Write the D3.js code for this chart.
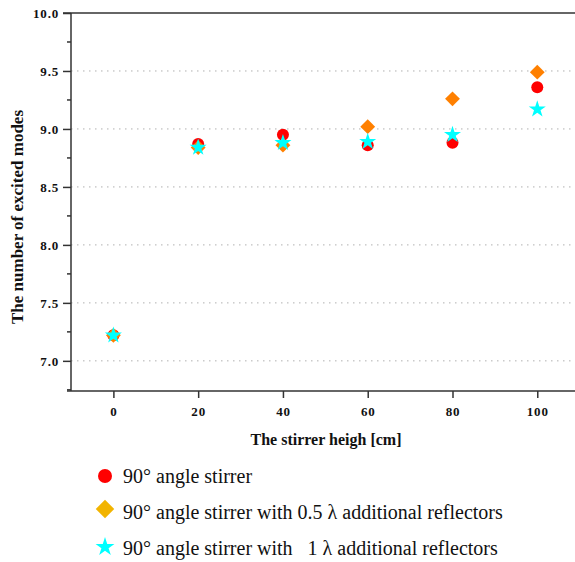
<!DOCTYPE html>
<html>
<head>
<meta charset="utf-8">
<script src="https://cdn.jsdelivr.net/npm/d3@7"></script>
<style>
  html, body { margin: 0; padding: 0; background: #fff; }
  svg { display: block; }
</style>
</head>
<body>
<svg id="chart" width="575" height="562"></svg>
<script>
// ---- data ----
const heights = [0, 20, 40, 60, 80, 100];
const seriesNames = [
  "90° angle stirrer",
  "90° angle stirrer with 0.5 λ additional reflectors",
  "90° angle stirrer with   1 λ additional reflectors"
];
const circleValues  = [7.22, 8.87, 8.95, 8.86, 8.88, 9.36];
const diamondValues = [7.22, 8.84, 8.86, 9.02, 9.26, 9.49];
const starValues    = [7.22, 8.84, 8.88, 8.89, 8.95, 9.17];
const xTicks = [0, 20, 40, 60, 80, 100];
const yTicks = [7.0, 7.5, 8.0, 8.5, 9.0, 9.5, 10.0];
const yMinorTicks = [6.75, 7.25, 7.75, 8.25, 8.75, 9.25, 9.75];

(function () {
const svg = d3.select("#chart");
const pLeft = 71, pRight = 575, pTop = 13, pBottom = 391;
const x = d3.scaleLinear().domain([-10, 108.9]).range([pLeft, pRight]);
const y = d3.scaleLinear().domain([6.74, 10.0]).range([pBottom, pTop]);

const serif = "'Liberation Serif', 'Times New Roman', serif";

// grid lines (dotted)
svg.append("g").selectAll("line").data(yTicks.filter(v => v < 10)).join("line")
  .attr("x1", pLeft).attr("x2", pRight)
  .attr("y1", d => y(d)).attr("y2", d => y(d))
  .attr("stroke", "#b0b0b0").attr("stroke-width", 1)
  .attr("stroke-dasharray", "1.5,4.5");

// top border
svg.append("line").attr("x1", pLeft - 8).attr("x2", pRight)
  .attr("y1", y(10)).attr("y2", y(10))
  .attr("stroke", "#333").attr("stroke-width", 1.5);

// y axis
const yAxis = d3.axisLeft(y).tickValues(yTicks).tickFormat(d3.format(".1f")).tickSize(8).tickPadding(4);
const gy = svg.append("g").attr("transform", `translate(${pLeft},0)`).call(yAxis);
gy.select(".domain").remove();
gy.selectAll(".tick line").attr("stroke", "#333").attr("stroke-width", 1.5);
gy.selectAll(".tick text").attr("font-family", serif).attr("font-weight", "bold")
  .attr("font-size", 13).attr("letter-spacing", "0.8px").attr("fill", "#111");
svg.append("g").selectAll("line").data(yMinorTicks).join("line")
  .attr("x1", pLeft - 4).attr("x2", pLeft)
  .attr("y1", d => y(d)).attr("y2", d => y(d))
  .attr("stroke", "#333").attr("stroke-width", 1.5);
svg.append("line").attr("x1", pLeft).attr("x2", pLeft)
  .attr("y1", pTop).attr("y2", pBottom)
  .attr("stroke", "#333").attr("stroke-width", 1.5);

// x axis
const xAxis = d3.axisBottom(x).tickValues(xTicks).tickSize(7).tickPadding(9);
const gx = svg.append("g").attr("transform", `translate(0,${pBottom})`).call(xAxis);
gx.select(".domain").remove();
gx.selectAll(".tick line").attr("stroke", "#333").attr("stroke-width", 1.5);
gx.selectAll(".tick text").attr("font-family", serif).attr("font-weight", "bold")
  .attr("font-size", 13).attr("letter-spacing", "0.8px").attr("fill", "#111");
svg.append("line").attr("x1", pLeft - 4).attr("x2", pRight)
  .attr("y1", pBottom).attr("y2", pBottom)
  .attr("stroke", "#333").attr("stroke-width", 1.5);

// axis titles
svg.append("text").attr("x", 326).attr("y", 445).attr("text-anchor", "middle")
  .attr("font-family", serif).attr("font-weight", "bold").attr("font-size", 16)
  .attr("fill", "#111").text("The stirrer heigh [cm]");
svg.append("text").attr("transform", "translate(23,217) rotate(-90)")
  .attr("text-anchor", "middle")
  .attr("font-family", serif).attr("font-weight", "bold").attr("font-size", 17)
  .attr("fill", "#111").text("The number of excited modes");

// markers
const circleSym = d3.symbol().type(d3.symbolCircle).size(Math.PI * 36);
const diamondSym = d3.symbol().type(d3.symbolSquare).size(110);
const starSym = d3.symbol().type(d3.symbolStar).size(90);

const pts = (vals) => heights.map((h, i) => ({ h, v: vals[i] }));

svg.append("g").selectAll("path").data(pts(circleValues)).join("path")
  .attr("d", circleSym)
  .attr("transform", d => `translate(${x(d.h)},${y(d.v)})`)
  .attr("fill", "#ff0000");
svg.append("g").selectAll("path").data(pts(diamondValues)).join("path")
  .attr("d", diamondSym)
  .attr("transform", d => `translate(${x(d.h)},${y(d.v)}) rotate(45)`)
  .attr("fill", "#ff8000");
svg.append("g").selectAll("path").data(pts(starValues)).join("path")
  .attr("d", starSym)
  .attr("transform", d => `translate(${x(d.h)},${y(d.v)})`)
  .attr("fill", "#00ffff");

// legend
const legendRows = [
  { name: seriesNames[0], sym: d3.symbol().type(d3.symbolCircle).size(Math.PI * 49), rot: 0, color: "#ff0000", y: 476, ty: 476 },
  { name: seriesNames[1], sym: d3.symbol().type(d3.symbolSquare).size(170), rot: 45, color: "#f2b400", y: 509, ty: 512 },
  { name: seriesNames[2], sym: d3.symbol().type(d3.symbolStar).size(110), rot: 0, color: "#00ffff", y: 547, ty: 548 }
];
const lg = svg.append("g").selectAll("g").data(legendRows).join("g");
lg.append("path").attr("d", d => d.sym())
  .attr("transform", d => `translate(105,${d.y}) rotate(${d.rot})`)
  .attr("fill", d => d.color);
lg.append("text").attr("x", 123).attr("y", d => d.ty + 7)
  .attr("font-family", serif).attr("font-size", 20).attr("fill", "#111")
  .style("white-space", "pre").attr("xml:space", "preserve")
  .text(d => d.name);
})();
</script>
</body>
</html>
